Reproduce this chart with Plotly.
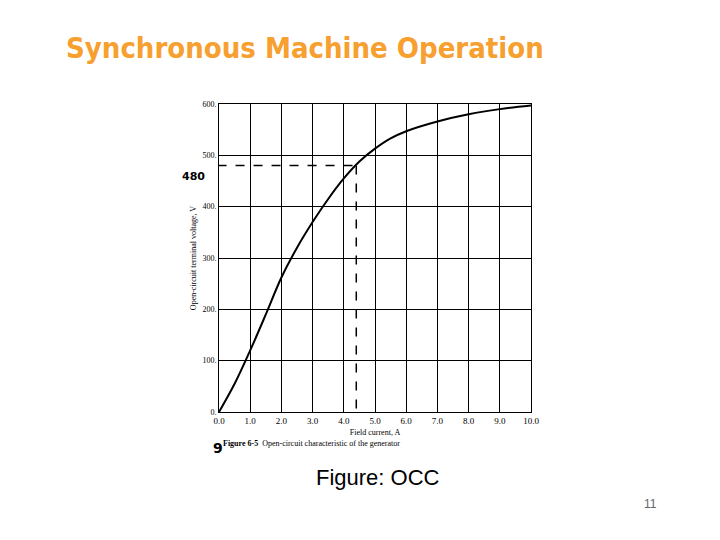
import plotly.graph_objects as go

field_current = [0, 0.5, 1.0, 1.5, 2.0, 2.5, 3.0, 3.5, 4.0, 4.5, 5.0, 5.5, 6.0, 7.0, 8.0, 9.0, 10.0]
voltage = [0, 55, 120, 190, 262, 320, 370, 415, 455, 488, 513, 533, 547, 566, 580, 590, 597]
x_ticks = [0, 1, 2, 3, 4, 5, 6, 7, 8, 9, 10]
x_labels = ["0.0", "1.0", "2.0", "3.0", "4.0", "5.0", "6.0", "7.0", "8.0", "9.0", "10.0"]
y_ticks = [0, 100, 200, 300, 400, 500, 600]
y_labels = ["0.", "100.", "200.", "300.", "400.", "500.", "600."]
op_current = 4.4
op_voltage = 480

fig = go.Figure()
fig.add_trace(go.Scatter(x=field_current, y=voltage, mode="lines", line=dict(color="black", width=2, shape="spline"), showlegend=False))
fig.add_trace(go.Scatter(x=[-1.2, op_current], y=[op_voltage, op_voltage], mode="lines", line=dict(color="black", width=1.5, dash="dash"), showlegend=False, cliponaxis=False))
fig.add_trace(go.Scatter(x=[op_current, op_current], y=[op_voltage, 0], mode="lines", line=dict(color="black", width=1.5, dash="dash"), showlegend=False))

fig.update_layout(
    width=720, height=540, paper_bgcolor="white", plot_bgcolor="white",
    margin=dict(l=0, r=0, t=0, b=0),
    font=dict(family="Liberation Serif", size=8, color="black"),
    xaxis=dict(domain=[211/720, 523/720], range=[0, 10], tickvals=x_ticks, ticktext=x_labels, showgrid=True, gridcolor="black", gridwidth=1.2,
               showline=True, linecolor="black", mirror=True, zeroline=False, ticks="", automargin=False,
               tickfont=dict(color="black", size=9),
               title=dict(text="Field current, A", font=dict(size=8, color="black"), standoff=4)),
    yaxis=dict(domain=[1-404/540, 1-96/540], range=[0, 600], tickvals=y_ticks, ticktext=y_labels, showgrid=True, gridcolor="black", gridwidth=1.2,
               showline=True, linecolor="black", mirror=True, zeroline=False, ticks="", automargin=False,
               tickfont=dict(color="black", size=8),
               title=dict(text="Open-circuit terminal voltage, V", font=dict(size=8, color="black"), standoff=4)),
    annotations=[
        dict(text="<b>Synchronous Machine Operation</b>", x=297/720, y=1-40/540, xref="paper", yref="paper", showarrow=False,
             font=dict(family="DejaVu Sans Condensed", size=29, color="#F7A030"), xanchor="center", yanchor="middle"),
        dict(text="<b>480</b>", x=172/720, y=1-160/540, xref="paper", yref="paper", showarrow=False,
             font=dict(family="DejaVu Sans", size=11, color="black"), xanchor="left"),
        dict(text="<b>9</b>", x=203/720, y=1-450/540, xref="paper", yref="paper", showarrow=False,
             font=dict(family="DejaVu Sans", size=14, color="black")),
        dict(text="<b>Figure 6-5</b>  Open-circuit characteristic of the generator", x=213/720, y=1-442/540, xref="paper", yref="paper",
             showarrow=False, xanchor="left", font=dict(family="Liberation Serif", size=8, color="black")),
        dict(text="Figure: OCC", x=370/720, y=1-484/540, xref="paper", yref="paper", showarrow=False,
             font=dict(family="Liberation Sans", size=22, color="black")),
        dict(text="11", x=651/720, y=1-505/540, xref="paper", yref="paper", showarrow=False,
             font=dict(family="Liberation Sans", size=12, color="#666666")),
    ],
)
fig.write_html("out.html")
